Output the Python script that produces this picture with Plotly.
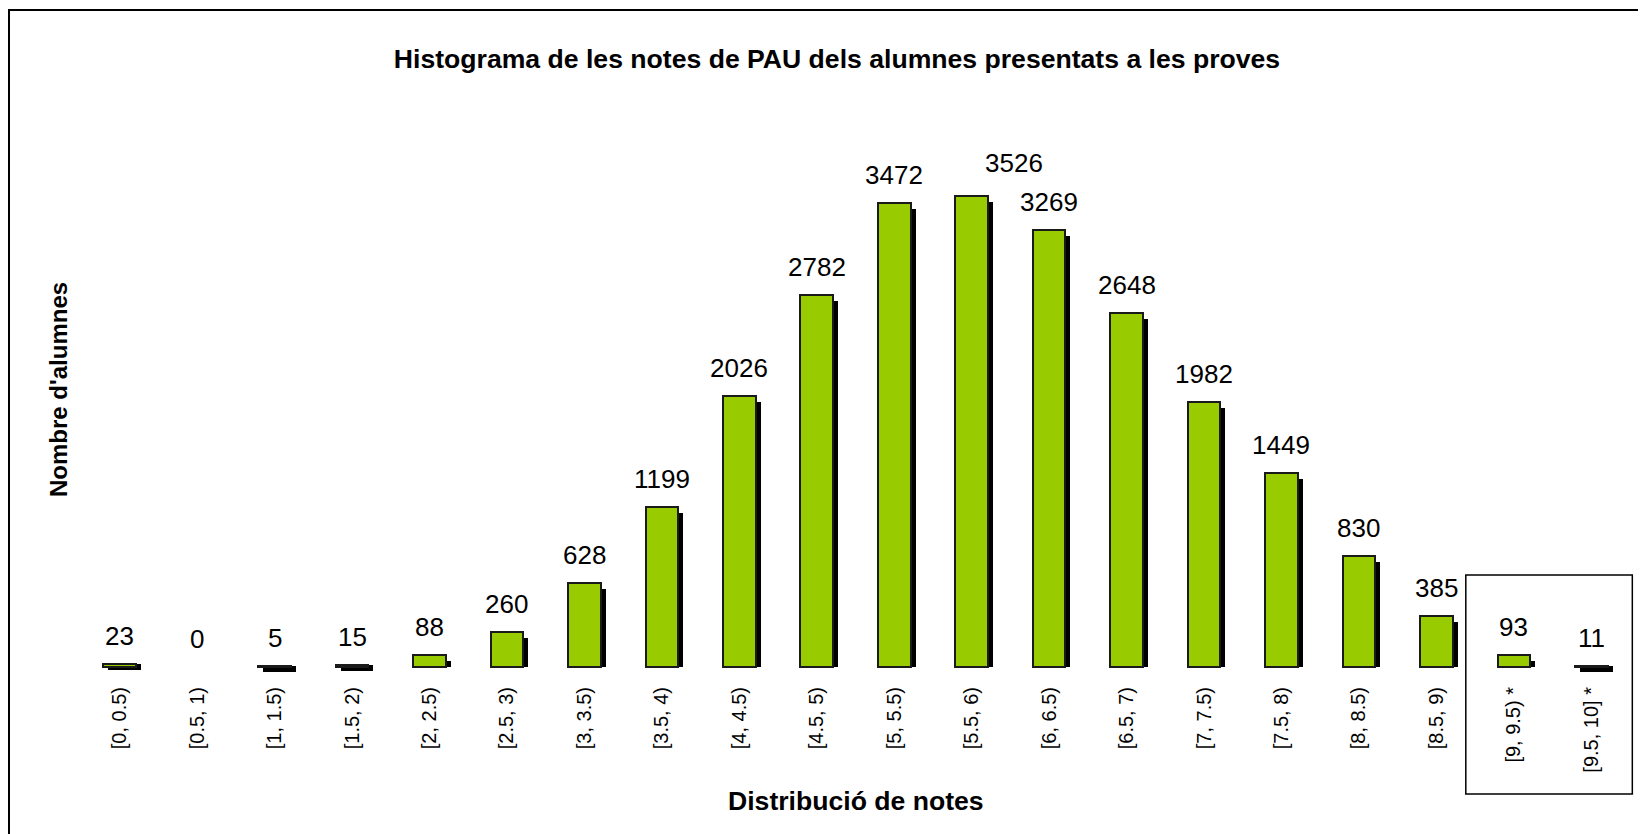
import plotly.graph_objects as go

categories = ["[0, 0.5)", "[0.5, 1)", "[1, 1.5)", "[1.5, 2)", "[2, 2.5)", "[2.5, 3)",
              "[3, 3.5)", "[3.5, 4)", "[4, 4.5)", "[4.5, 5)", "[5, 5.5)", "[5.5, 6)",
              "[6, 6.5)", "[6.5, 7)", "[7, 7.5)", "[7.5, 8)", "[8, 8.5)", "[8.5, 9)",
              "[9, 9.5) *", "[9.5, 10] *"]
counts = [23, 0, 5, 15, 88, 260, 628, 1199, 2026, 2782, 3472, 3526, 3269, 2648,
          1982, 1449, 830, 385, 93, 11]

title_text = "Histograma de les notes de PAU dels alumnes presentats a les proves"
x_title = "Distribució de notes"
y_title = "Nombre d'alumnes"

# ---- layout constants (page pixels; the page body adds an 8px margin) ----
OFF = 8
PAGE_W, PAGE_H = 1646, 834
W, H = PAGE_W - OFF, PAGE_H - OFF
plot_left, plot_right = 81 - OFF, 1630 - OFF
plot_top, plot_bottom = 100 - OFF, 680 - OFF
baseline = 667 - OFF
L, R, T, B = plot_left, W - plot_right, plot_top, H - plot_bottom
plot_w = plot_right - plot_left
plot_h = plot_bottom - plot_top
units_per_px = 7.486
y_min = -(plot_bottom - baseline) * units_per_px
y_max = (baseline - plot_top) * units_per_px
x_min, x_max = -0.5, len(categories) - 0.5
cat_px = plot_w / (x_max - x_min)

bar_w = 0.421
sh_dx = 5 / cat_px
sh_dy = 6 * units_per_px

# manual label nudges (index -> (dx px, dy px))
label_nudge = {11: (42, 5)}

FONT = "Liberation Sans, Arial, sans-serif"
GREEN = "#99CC00"


def px_x(px):  # page px -> paper
    return (px - OFF - plot_left) / plot_w


def px_y(py):  # page px -> paper
    return (plot_bottom - (py - OFF)) / plot_h


xs = list(range(len(categories)))

# shadow geometry derived from values
sh_base, sh_h = [], []
for v in counts:
    if v == 0:
        sh_base.append(0)
        sh_h.append(0)
    elif v > sh_dy:
        sh_base.append(0)
        sh_h.append(v - sh_dy)
    else:
        sh_base.append(v - sh_dy)
        sh_h.append(sh_dy)

fig = go.Figure()
fig.add_trace(go.Bar(
    x=[x + sh_dx for x in xs], y=sh_h, base=sh_base, width=bar_w,
    marker=dict(color="black", line=dict(width=0)),
    hoverinfo="skip", showlegend=False,
))
fig.add_trace(go.Bar(
    x=xs, y=counts, width=bar_w,
    marker=dict(color=GREEN,
                line=dict(color="#1a1a1a", width=[0 if v == 0 else 2 for v in counts])),
    showlegend=False,
))

annotations = []
for i, (x, v) in enumerate(zip(xs, counts)):
    dx, dy = label_nudge.get(i, (0, 0))
    annotations.append(dict(
        x=x, y=max(v, 0), xref="x", yref="y", text=str(v), showarrow=False,
        yanchor="bottom", xanchor="center", yshift=11 + dy, xshift=dx,
        font=dict(family=FONT, size=26, color="black"),
    ))

annotations.append(dict(
    x=0.5, y=px_y(801), xref="paper", yref="paper", text=f"<b>{x_title}</b>",
    showarrow=False, xanchor="center", yanchor="middle",
    font=dict(family=FONT, size=26.6, color="black"),
))
annotations.append(dict(
    x=px_x(58), y=px_y(390), xref="paper", yref="paper", text=f"<b>{y_title}</b>",
    showarrow=False, xanchor="center", yanchor="middle", textangle=-90,
    font=dict(family=FONT, size=24, color="black"),
))

shapes = [
    # box around the last two categories
    dict(type="rect", xref="paper", yref="paper",
         x0=(17.38 - x_min) / (x_max - x_min), x1=(19.53 - x_min) / (x_max - x_min),
         y0=px_y(794), y1=px_y(575),
         line=dict(color="black", width=1.5), fillcolor="rgba(0,0,0,0)"),
    # outer chart border
    dict(type="rect", xref="paper", yref="paper",
         x0=px_x(9), x1=px_x(PAGE_W + 20), y0=px_y(PAGE_H + 20), y1=px_y(10),
         line=dict(color="black", width=2), fillcolor="rgba(0,0,0,0)"),
]

fig.update_layout(
    width=W, height=H,
    margin=dict(l=L, r=R, t=T, b=B, pad=0),
    paper_bgcolor="white", plot_bgcolor="white",
    barmode="overlay", bargap=0,
    title=dict(text=f"<b>{title_text}</b>", x=(837 - OFF) / W, y=1 - (59 - OFF) / H,
               xref="container", yref="container", xanchor="center", yanchor="middle",
               font=dict(family=FONT, size=26.6, color="black")),
    xaxis=dict(range=[x_min, x_max], tickmode="array", tickvals=xs, ticktext=categories,
               tickangle=-90, ticks="", showgrid=False, zeroline=False, showline=False,
               tickfont=dict(family=FONT, size=20, color="black"), ticklabelstandoff=2),
    yaxis=dict(range=[y_min, y_max], showticklabels=False, ticks="", showgrid=False,
               zeroline=False, showline=False),
    annotations=annotations,
    shapes=shapes,
    font=dict(family=FONT),
)

fig.write_html("out.html")
